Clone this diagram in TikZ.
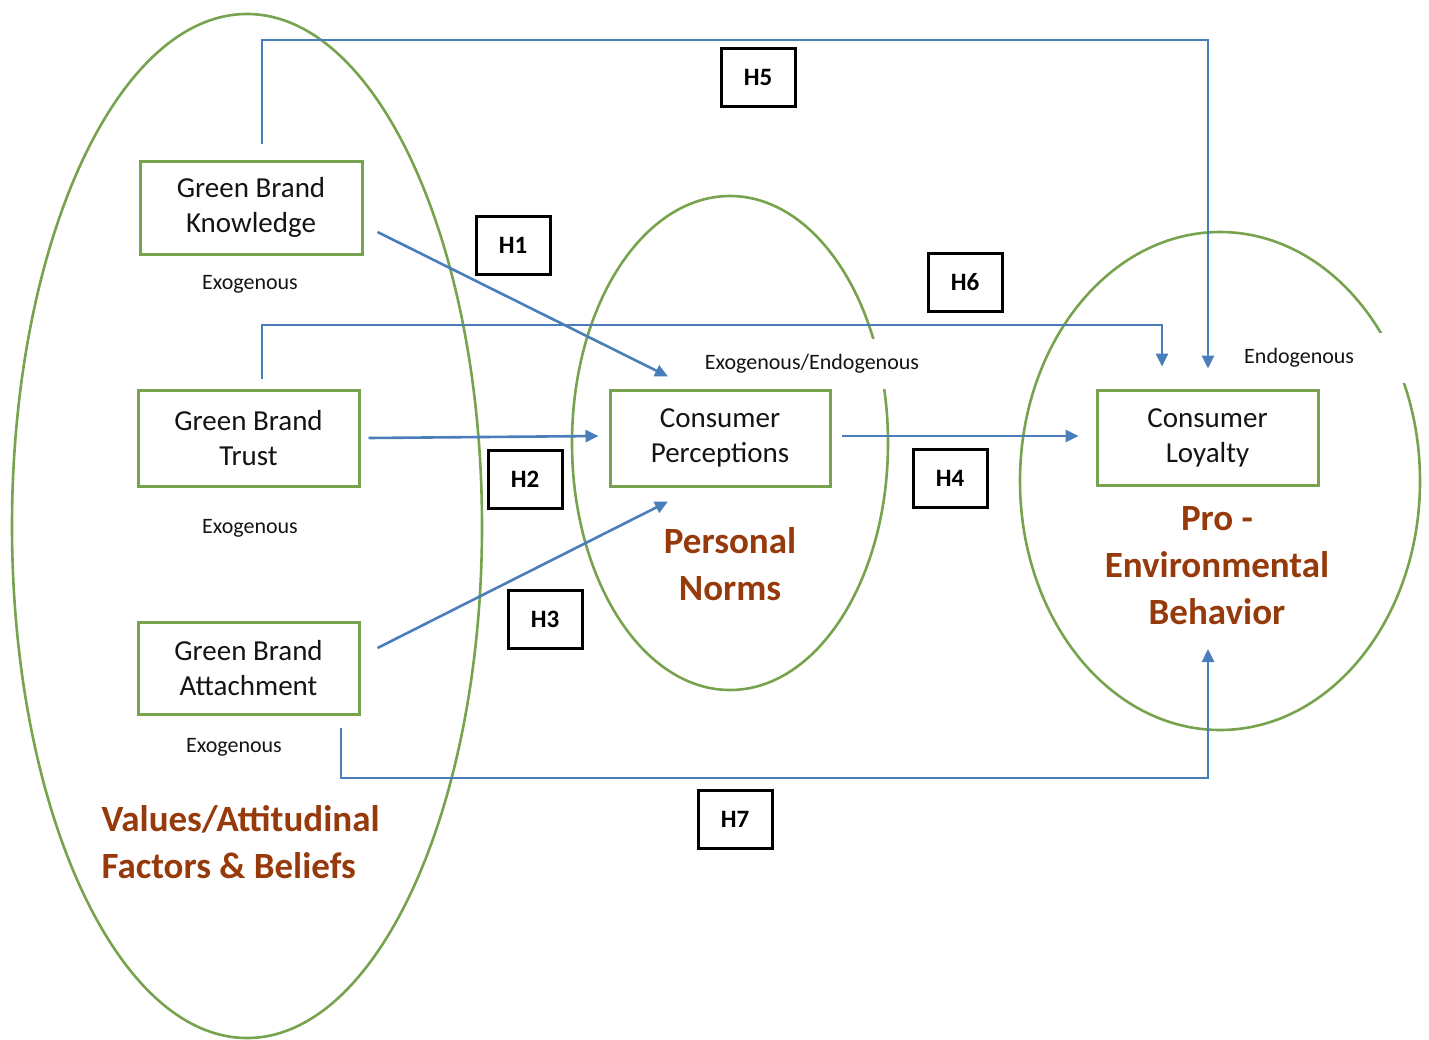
\documentclass[tikz,border=0pt]{standalone}
\usepackage{fontspec}
\setmainfont{Carlito}
\usetikzlibrary{arrows.meta,calc}

\definecolor{grn}{RGB}{119,163,78}
\definecolor{lnk}{RGB}{74,126,187}
\definecolor{rust}{RGB}{150,58,12}
\definecolor{ink}{RGB}{20,20,20}

\tikzset{
  construct/.style={draw=grn, line width=3pt, fill=white, text=ink, align=center,
    font=\fontsize{29}{35}\selectfont, inner sep=0pt},
  hyp/.style={draw=black, line width=3pt, fill=white, minimum width=74pt, minimum height=58pt,
    inner sep=0pt, font=\bfseries\fontsize{25}{30}\selectfont},
  role/.style={text=ink, font=\fontsize{22}{26}\selectfont, inner sep=2pt},
  theme/.style={text=rust, align=center, font=\bfseries\fontsize{37}{47}\selectfont, inner sep=0pt},
  zone/.style={draw=grn, line width=2.6pt},
  conn/.style={draw=lnk, line width=2.6pt, -{Triangle[length=13pt,width=12pt]}}
}

\begin{document}
\begin{tikzpicture}[x=1pt,y=-1pt]
\useasboundingbox (0,0) rectangle (1429,1039);

% grouping ellipses
\draw[zone] (247,526) ellipse [x radius=235pt, y radius=512pt];
\draw[zone] (730,443) ellipse [x radius=158pt, y radius=247pt];
\draw[zone] (1220,481) ellipse [x radius=200pt, y radius=249pt];

% roles (the two upper ones break the ellipse outline)
\node[role] (exk) at (250,284) {Exogenous};
\node[role] (ext) at (250,528) {Exogenous};
\node[role] (exa) at (234,747) {Exogenous};
\node[role, fill=white, minimum height=50pt, inner xsep=6pt] (exn) at (812,364) {Exogenous/Endogenous};
\node[role, fill=white, anchor=west, text width=157pt, align=left, minimum height=50pt, inner xsep=6pt] (end) at (1238,358) {Endogenous};

% constructs
\node[construct, minimum width=222pt, minimum height=93pt] (gbk) at (251,207.5) {Green Brand\\Knowledge};
\node[construct, minimum width=221pt, minimum height=96pt] (gbt) at (248.5,438) {Green Brand\\Trust};
\node[construct, minimum width=221pt, minimum height=92pt] (gba) at (248.5,668) {Green Brand\\Attachment};
\node[construct, minimum width=220pt, minimum height=96pt] (cp) at (720,438) {Consumer\\Perceptions};
\node[construct, minimum width=221pt, minimum height=95pt] (cl) at (1207.5,437.5) {Consumer\\Loyalty};

% theme labels
\node[theme] (pn) at (730,564.5) {Personal\\Norms};
\node[theme] (peb) at (1217,566) {Pro -\\Environmental\\Behavior};
\node[theme, align=left] (vaf) at (240.5,842) {Values/Attitudinal\\Factors \& Beliefs};

% helper points for the routed links
\coordinate (h5top) at (0,40);
\coordinate (h6top) at (0,325);
\coordinate (h7bot) at (0,778);
\coordinate (k5s) at ([xshift=11pt,yshift=16pt]gbk.north);
\coordinate (l5e) at ([xshift=0.5pt,yshift=20pt]cl.north);
\coordinate (t6s) at ([xshift=13.5pt,yshift=10pt]gbt.north);
\coordinate (l6e) at ([xshift=-45.5pt,yshift=22pt]cl.north);
\coordinate (a7s) at ([xshift=92.5pt,yshift=-12pt]gba.south);
\coordinate (b7e) at (1208,649);

% hypothesised paths
\draw[conn] ([xshift=14pt,yshift=-24.5pt]gbk.east) -- ([xshift=-52pt,yshift=12pt]cp.north);
\draw[conn] ([xshift=8pt]gbt.east) -- ([xshift=-10pt,yshift=2pt]cp.west);
\draw[conn] ([xshift=17pt,yshift=20pt]gba.east) -- ([xshift=-52pt,yshift=-14pt]cp.south);
\draw[conn] ([xshift=10pt,yshift=2pt]cp.east) -- ([xshift=-17pt,yshift=1.5pt]cl.west);
\draw[conn] (k5s) |- (h5top -| l5e) -- (l5e);
\draw[conn] (t6s) |- (h6top -| l6e) -- (l6e);
\draw[conn] (a7s) |- (h7bot -| b7e) -- (b7e);

% hypothesis tags
\node[hyp] (h1) at (513,245) {H1};
\node[hyp] (h2) at (525,479.5) {H2};
\node[hyp] (h3) at (545,619) {H3};
\node[hyp] (h4) at (950,478) {H4};
\node[hyp] (h5) at (758,77) {H5};
\node[hyp] (h6) at (965,282) {H6};
\node[hyp] (h7) at (735,819.5) {H7};
\end{tikzpicture}
\end{document}
